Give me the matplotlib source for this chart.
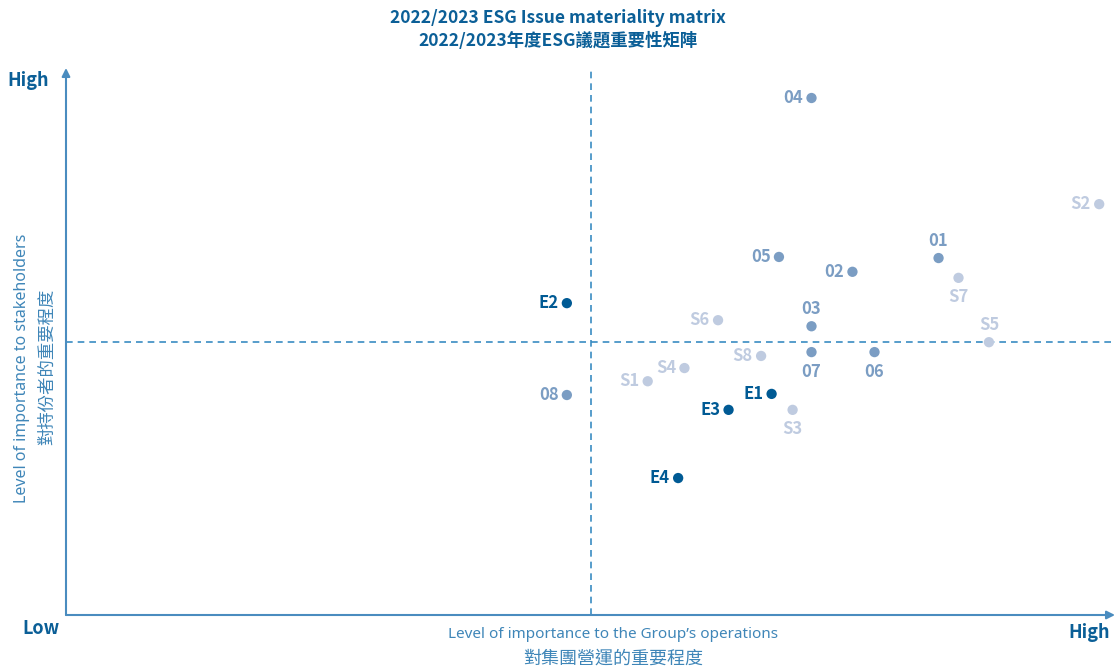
import matplotlib
matplotlib.use("Agg")
import matplotlib.pyplot as plt

plt.rcParams['font.family'] = ['Noto Sans CJK TC', 'DejaVu Sans']

# ---- data (importance to operations, importance to stakeholders) ----
labels = ["04", "S2", "01", "S7", "05", "02", "E2", "S6", "03", "S5",
          "S8", "07", "06", "S4", "S1", "08", "E1", "E3", "S3", "E4"]
x_vals = [7.10, 9.84, 8.31, 8.50, 6.79, 7.49, 4.77, 6.21, 7.10, 8.79,
          6.62, 7.10, 7.70, 5.89, 5.54, 4.77, 6.72, 6.31, 6.92, 5.83]
y_vals = [9.40, 7.47, 6.49, 6.13, 6.51, 6.24, 5.67, 5.36, 5.25, 4.96,
          4.71, 4.78, 4.78, 4.49, 4.25, 4.00, 4.02, 3.73, 3.73, 2.49]
groups = ["G", "S", "G", "S", "G", "G", "E", "S", "G", "S",
          "S", "G", "G", "S", "S", "G", "E", "E", "S", "E"]
label_pos = ["left", "left", "above", "below", "left", "left", "left", "left", "above", "above",
             "left", "below", "below", "left", "left", "left", "left", "left", "below", "left"]
x_threshold = 5.0
y_threshold = 4.96

title_lines = ["2022/2023 ESG Issue materiality matrix", "2022/2023年度ESG議題重要性矩陣"]
xlabel_lines = ["Level of importance to the Group\u2019s operations", "對集團營運的重要程度"]
ylabel_lines = ["Level of importance to stakeholders", "對持份者的重要程度"]

colors = {"E": "#005a94", "G": "#7b9dc3", "S": "#bfcbe0"}
axis_color = "#4a8cbf"
dark = "#0b5f97"

W, H = 1117, 670
fig = plt.figure(figsize=(W / 100, H / 100), dpi=100)
ax = fig.add_axes([66 / W, (H - 615) / H, 1 - 66 / W, 615 / H])
x_max = (W - 66) / 105
y_max = 615 / 55
ax.set_xlim(0, x_max)
ax.set_ylim(0, y_max)
ax.axis("off")

x_end = (1115 - 66) / 105
y_end = (615 - 68) / 55

# axes with arrows
ax.annotate("", xy=(x_end, 0), xytext=(0, 0),
            arrowprops=dict(arrowstyle="-|>", color=axis_color, lw=1.5,
                            mutation_scale=12, shrinkA=0, shrinkB=0))
ax.annotate("", xy=(0, y_end), xytext=(0, 0),
            arrowprops=dict(arrowstyle="-|>", color=axis_color, lw=1.5,
                            mutation_scale=12, shrinkA=0, shrinkB=0))

# threshold dashed lines
ax.plot([x_threshold, x_threshold], [0, y_end], ls=(0, (4, 3)), color="#3a8cc2", lw=1.2)
ax.plot([0, x_end], [y_threshold, y_threshold], ls=(0, (4, 3)), color="#3a8cc2", lw=1.2)

# points
for lab, xv, yv, g, pos in zip(labels, x_vals, y_vals, groups, label_pos):
    c = colors[g]
    ax.scatter([xv], [yv], s=55, color=c, zorder=3, edgecolors="none")
    if pos == "left":
        off, ha, va = (-6, 0), "right", "center"
    elif pos == "above":
        off, ha, va = (0, 6), "center", "bottom"
    else:
        off, ha, va = (0, -7.5), "center", "top"
    ax.annotate(lab, (xv, yv), xytext=off, textcoords="offset points",
                ha=ha, va=va, fontsize=12, fontweight="bold", color=c)

# title
fig.text(558 / W, 1 - 18 / H, title_lines[0], ha="center", va="center",
         fontsize=12.5, fontweight="bold", color=dark)
fig.text(558 / W, 1 - 41 / H, title_lines[1], ha="center", va="center",
         fontsize=12.5, fontweight="bold", color=dark)

# High / Low
fig.text(28 / W, 1 - 80 / H, "High", ha="center", va="center", fontsize=13, fontweight="bold", color=dark)
fig.text(41 / W, 1 - 628 / H, "Low", ha="center", va="center", fontsize=13, fontweight="bold", color=dark)
fig.text(1089 / W, 1 - 632 / H, "High", ha="center", va="center", fontsize=13, fontweight="bold", color=dark)

# axis labels
lbl_color = "#3f86b8"
fig.text(613 / W, 1 - 635 / H, xlabel_lines[0], ha="center", va="center", fontsize=11,
         color=lbl_color, family=['Noto Sans', 'Noto Sans CJK TC'])
fig.text(613 / W, 1 - 659 / H, xlabel_lines[1], ha="center", va="center", fontsize=13, color=lbl_color)
fig.text(22 / W, 1 - 368 / H, ylabel_lines[0], ha="center", va="center", rotation=90, fontsize=11.5,
         color=lbl_color, family=['Noto Sans', 'Noto Sans CJK TC'])
fig.text(47 / W, 1 - 367 / H, ylabel_lines[1], ha="center", va="center", rotation=90, fontsize=12.5, color=lbl_color)

fig.savefig("out.png", dpi=100)
